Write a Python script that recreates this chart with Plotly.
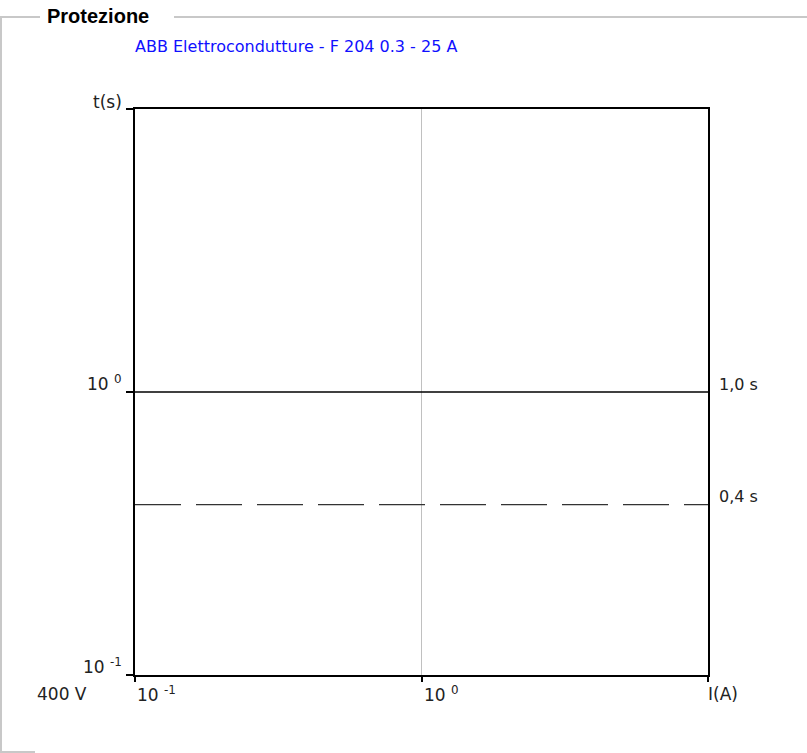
import math
import plotly.graph_objects as go

# Trip-time chart for the protective device
panel_title = "Protezione"
device_label = "ABB Elettrocondutture - F 204 0.3 - 25 A"
voltage_label = "400 V"
x_axis_title = "I(A)"
y_axis_title = "t(s)"

x_range_decades = [-1, 1]      # 10^-1 .. 10^1 A
y_range_decades = [-1, 1]      # 10^-1 .. 10^1 s
x_tick_values = [0.1, 1.0]
x_tick_labels = ["10 <sup>-1</sup>", "10 <sup>0</sup>"]
y_tick_values = [0.1, 1.0]
y_tick_labels = ["10 <sup>-1</sup>", "10 <sup>0</sup>"]

threshold_times = [1.0, 0.4]
threshold_labels = ["1,0 s", "0,4 s"]

W, H = 807, 753
ML, MR, MT, MB = 135, 99, 109, 78
PW, PH = W - ML - MR, H - MT - MB

FONT = "DejaVu Sans, Verdana, sans-serif"
TXT = "#222222"
FRAME = "#c8c8c8"


def px_x(p):
    return (p - ML) / PW


def px_y(p):
    return (H - MB - p) / PH


fig = go.Figure()

x_lo, x_hi = 10 ** x_range_decades[0], 10 ** x_range_decades[1]
styles = [dict(color="#000000", width=1.5, dash="solid"),
          dict(color="#333333", width=1.2, dash="46px,15px")]
for t, st in zip(threshold_times, styles):
    fig.add_trace(go.Scatter(x=[x_lo, x_hi], y=[t, t], mode="lines",
                             line=st, hoverinfo="skip", showlegend=False))

LBL = dict(family=FONT, size=17, color=TXT)
ann = []
# y tick labels, sitting just above their lines
for v, lab in zip(y_tick_values, y_tick_labels):
    ann.append(dict(x=0, xref="paper", y=math.log10(v), yref="y", text=lab,
                    xanchor="right", yanchor="middle", xshift=-11, yshift=9,
                    showarrow=False, font=LBL))
ann.append(dict(x=0, xref="paper", y=1, yref="paper", text=y_axis_title,
                xanchor="right", yanchor="middle", xshift=-11, yshift=7,
                showarrow=False, font=LBL))
# x tick labels, left aligned at their ticks
for v, lab in zip(x_tick_values, x_tick_labels):
    ann.append(dict(x=math.log10(v), xref="x", y=0, yref="paper", text=lab,
                    xanchor="left", yanchor="middle", xshift=0, yshift=-19,
                    showarrow=False, font=LBL))
ann.append(dict(x=1, xref="paper", y=0, yref="paper", text=x_axis_title,
                xanchor="left", yanchor="middle", xshift=-2, yshift=-19,
                showarrow=False, font=LBL))
ann.append(dict(x=px_x(35), xref="paper", y=0, yref="paper", text=voltage_label,
                xanchor="left", yanchor="middle", yshift=-19,
                showarrow=False, font=LBL))
# threshold labels on the right
for t, lab in zip(threshold_times, threshold_labels):
    ann.append(dict(x=1, xref="paper", y=math.log10(t), yref="y", text=lab,
                    xanchor="left", yanchor="middle", xshift=9, yshift=8,
                    showarrow=False, font=dict(family=FONT, size=16, color=TXT)))
# device name and panel caption
ann.append(dict(x=px_x(133), xref="paper", y=px_y(46), yref="paper", text=device_label,
                xanchor="left", yanchor="middle", showarrow=False,
                font=dict(family=FONT, size=16, color="#1010ff")))
ann.append(dict(x=px_x(45), xref="paper", y=px_y(16), yref="paper",
                text="<b>" + panel_title + "</b>",
                xanchor="left", yanchor="middle", showarrow=False,
                font=dict(family="Liberation Sans, Arial, sans-serif", size=20,
                          color="#000000")))

# fieldset-style frame
shapes = [
    dict(type="line", xref="paper", yref="paper", x0=px_x(0), x1=px_x(40),
         y0=px_y(17), y1=px_y(17), line=dict(color=FRAME, width=2)),
    dict(type="line", xref="paper", yref="paper", x0=px_x(174), x1=px_x(807),
         y0=px_y(17), y1=px_y(17), line=dict(color=FRAME, width=2)),
    dict(type="line", xref="paper", yref="paper", x0=px_x(1), x1=px_x(1),
         y0=px_y(17), y1=px_y(753), line=dict(color=FRAME, width=2)),
    dict(type="line", xref="paper", yref="paper", x0=px_x(0), x1=px_x(35),
         y0=px_y(752), y1=px_y(752), line=dict(color=FRAME, width=2)),
]

fig.update_layout(
    width=W, height=H,
    margin=dict(l=ML, r=MR, t=MT, b=MB),
    paper_bgcolor="white", plot_bgcolor="white",
    annotations=ann, shapes=shapes,
    showlegend=False,
    xaxis=dict(type="log", range=x_range_decades, showline=True, mirror=True,
               linecolor="black", linewidth=2, ticks="outside", ticklen=5,
               tickwidth=1.5, tickcolor="black",
               tickvals=[0.1, 1.0, 10.0], showticklabels=False,
               showgrid=True, gridcolor="#c0c0c0", gridwidth=1, zeroline=False),
    yaxis=dict(type="log", range=y_range_decades, showline=True, mirror=True,
               linecolor="black", linewidth=2, ticks="outside", ticklen=7,
               tickwidth=1.5, tickcolor="black",
               tickvals=[0.1, 1.0, 10.0], showticklabels=False,
               showgrid=False, zeroline=False),
)

fig.write_html("out.html")
